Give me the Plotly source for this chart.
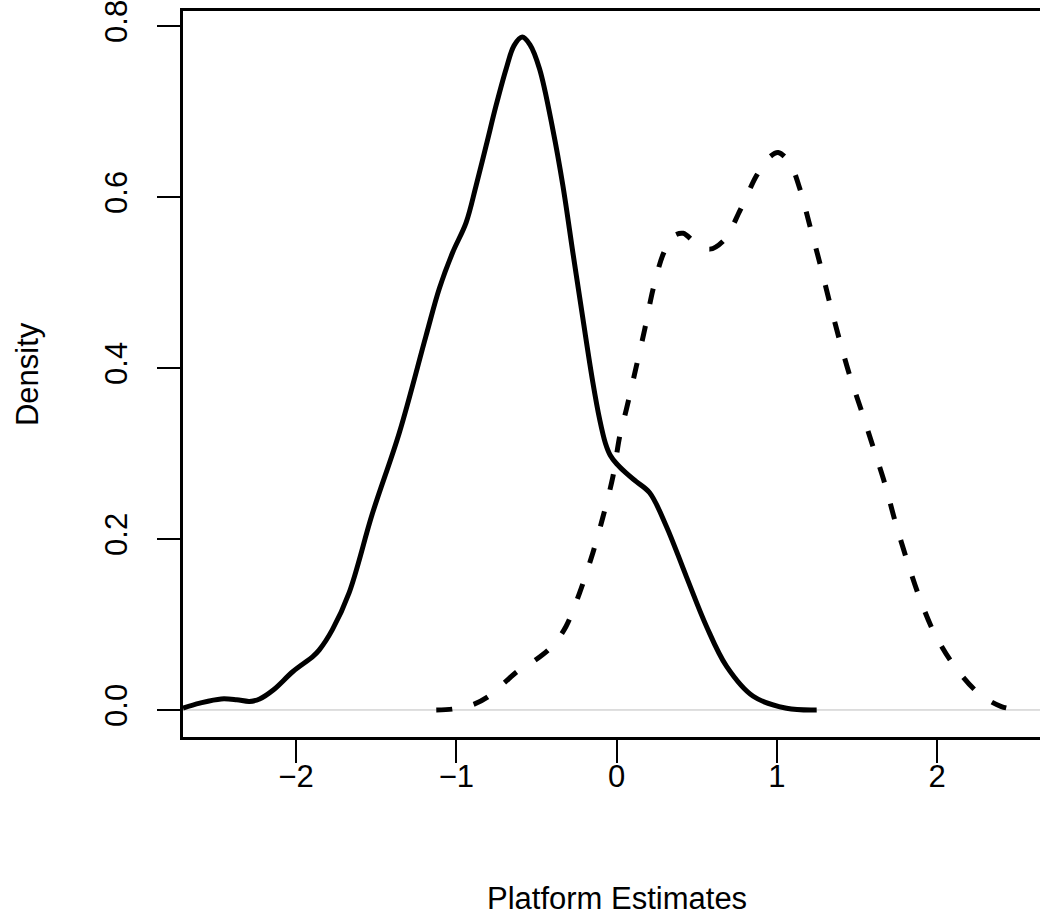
import plotly.graph_objects as go

# Solid density curve
solid_x = [-2.705, -2.60, -2.467, -2.37, -2.29, -2.227, -2.14, -2.019, -1.894, -1.856, -1.773,
           -1.669, -1.523, -1.356, -1.19, -1.106, -1.023, -0.939, -0.877, -0.814, -0.752,
           -0.689, -0.64, -0.589, -0.54, -0.481, -0.398, -0.335, -0.273, -0.21, -0.15,
           -0.106, -0.07, -0.04, 0.0, 0.06, 0.123, 0.206, 0.31, 0.435, 0.56, 0.686, 0.852,
           1.06, 1.248]
solid_y = [0.0023, 0.008, 0.0129, 0.012, 0.010, 0.0129, 0.0237, 0.045, 0.0627, 0.070, 0.094,
           0.137, 0.230, 0.324, 0.437, 0.493, 0.535, 0.570, 0.613, 0.660, 0.707,
           0.750, 0.777, 0.787, 0.778, 0.750, 0.679, 0.613, 0.535, 0.457, 0.385,
           0.340, 0.312, 0.298, 0.288, 0.277, 0.267, 0.254, 0.215, 0.156, 0.098, 0.051, 0.016,
           0.002, 0.0]

# Dashed density curve
dashed_x = [-1.125, -1.025, -0.9, -0.806, -0.7, -0.62, -0.502, -0.40, -0.315, -0.231, -0.148,
            -0.085, -0.023, 0.019, 0.06, 0.123, 0.175, 0.227, 0.29, 0.352, 0.415, 0.4875,
            0.581, 0.675, 0.769, 0.873, 0.95, 1.008, 1.08, 1.144, 1.206, 1.27, 1.327, 1.39,
            1.456, 1.529, 1.602, 1.675, 1.7375, 1.81, 1.883, 1.977, 2.102, 2.258, 2.40, 2.52]
dashed_y = [0.0, 0.001, 0.006, 0.015, 0.032, 0.045, 0.059, 0.075, 0.098, 0.137, 0.184,
            0.226, 0.273, 0.32, 0.351, 0.402, 0.445, 0.492, 0.533, 0.554, 0.5575, 0.547,
            0.539, 0.5505, 0.584, 0.625, 0.646, 0.652, 0.640, 0.609, 0.566, 0.521, 0.478, 0.433,
            0.390, 0.349, 0.3065, 0.2635, 0.2206, 0.1757, 0.1347, 0.0917, 0.0527, 0.0195, 0.004, 0.0]

x_ticks = [-2, -1, 0, 1, 2]
x_tick_labels = ["\u22122", "\u22121", "0", "1", "2"]
y_ticks = [0.0, 0.2, 0.4, 0.6, 0.8]
y_tick_labels = ["0.0", "0.2", "0.4", "0.6", "0.8"]

FONT = "Liberation Sans, Arial, Helvetica, sans-serif"
FS = 31

fig = go.Figure()
fig.add_trace(go.Scatter(x=solid_x, y=solid_y, mode="lines",
                         line=dict(color="black", width=5, shape="spline", smoothing=1.0),
                         showlegend=False, hoverinfo="skip"))
fig.add_trace(go.Scatter(x=dashed_x, y=dashed_y, mode="lines",
                         line=dict(color="black", width=5, shape="spline", smoothing=0.9,
                                   dash="16px,22px"),
                         showlegend=False, hoverinfo="skip"))

fig.add_shape(type="line", xref="paper", yref="y", x0=0, x1=1, y0=0, y1=0,
              line=dict(color="#bebebe", width=1), layer="below")

fig.update_layout(
    width=1040, height=917,
    margin=dict(l=183, r=0, t=11, b=180),
    paper_bgcolor="white", plot_bgcolor="white",
    font=dict(family=FONT, size=FS, color="black"),
    xaxis=dict(range=[-2.705, 2.641], tickvals=x_ticks, ticktext=x_tick_labels,
               showgrid=False, zeroline=False, showline=True, mirror=True,
               linecolor="black", linewidth=2.5, ticks="outside", ticklen=23,
               tickwidth=2, tickcolor="black", ticklabelstandoff=-13,
               ticklabeloverflow="allow",
               tickfont=dict(family=FONT, size=FS)),
    yaxis=dict(range=[-0.0316, 0.8175], tickvals=y_ticks, ticktext=y_tick_labels,
               showgrid=False, zeroline=False, showline=True, mirror=False,
               linecolor="black", linewidth=2.5, ticks="outside", ticklen=23,
               tickwidth=2, tickcolor="black", tickangle=-90, ticklabelstandoff=18,
               ticklabeloverflow="allow",
               tickfont=dict(family=FONT, size=FS)),
    annotations=[
        dict(text="Platform Estimates", xref="x", yref="paper", x=0.0, y=-0.2231,
             xanchor="center", yanchor="middle", showarrow=False,
             font=dict(family=FONT, size=FS)),
        dict(text="Density", xref="paper", yref="paper", x=-0.182, y=0.5,
             xanchor="center", yanchor="middle", textangle=-90, showarrow=False,
             font=dict(family=FONT, size=FS)),
    ],
)

fig.write_html("out.html", config={"displayModeBar": False},
               post_script="document.body.style.margin='0';document.body.style.overflow='hidden';")
